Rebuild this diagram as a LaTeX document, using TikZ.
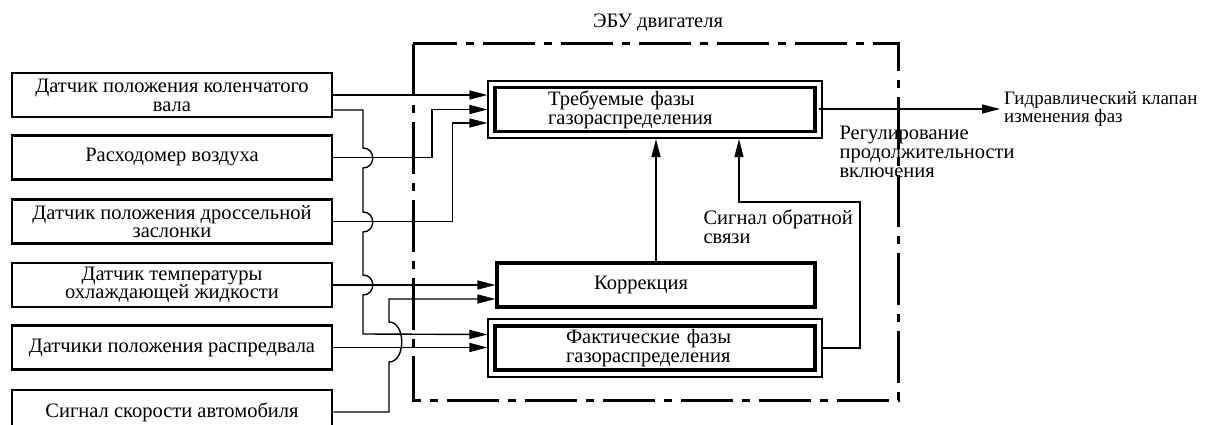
\documentclass[tikz,border=0pt]{standalone}
\usepackage{fontspec}
\setmainfont{Liberation Serif}
\usetikzlibrary{arrows.meta,fit}
\tikzset{
  every node/.style={font=\fontsize{20.5pt}{18.8pt}\selectfont},
  sensor/.style={draw,line width=2.8pt,minimum width=320pt,minimum height=44pt,align=center,inner sep=0pt},
  block/.style={draw,line width=3.2pt,minimum width=320pt,minimum height=44pt,inner sep=0pt},
  shell/.style={draw,line width=2pt,inner sep=5pt},
  wire/.style={line width=1.4pt},
  arr/.style={wire,-{Triangle[length=18pt,width=9pt]}},
  ecu/.style={line width=3pt,dash pattern=on 52pt off 9pt on 8pt off 9pt},
}
\begin{document}
\begin{tikzpicture}[x=1pt,y=-1pt]
\useasboundingbox (0,0) rectangle (1207,425);
% sensors
\node[sensor] (crank) at (172,95) {Датчик положения коленчатого\\вала};
\node[sensor] (maf) at (172,157.5) {Расходомер воздуха};
\node[sensor] (tps) at (172,221.5) {Датчик положения дроссельной\\заслонки};
\node[sensor] (ect) at (172,285) {Датчик температуры\\охлаждающей жидкости};
\node[sensor] (cmp) at (172,347.5) {Датчики положения распредвала};
\node[sensor] (vss) at (172,412) {Сигнал скорости автомобиля};
% ECU
\draw[ecu] (413,44) rectangle (898,400);
\node (ecu) at (658,23) {ЭБУ двигателя};
\node[block,text width=214pt,align=left] (treb) at (655,109.5) {Требуемые фазы\\газораспределения};
\node[shell,fit=(treb)] (trebo) {};
\node[block,minimum width=318pt] (korr) at (656,285) {\hspace*{-30pt}Коррекция};
\node[block,text width=178pt,align=left] (fakt) at (655,348) {Фактические фазы\\газораспределения};
\node[shell,fit=(fakt)] (fakto) {};
\node[anchor=west,align=left,inner xsep=0pt,font=\fontsize{19pt}{18.8pt}\selectfont] (valve) at (1004,109) {Гидравлический клапан\\изменения фаз};
\node[anchor=west,align=left] at (836,152) {Регулирование\\продолжительности\\включения};
\node[anchor=west,align=left] at (700,227) {Сигнал обратной\\связи};
% wires
\coordinate (bus) at (363,110);
\coordinate (fb1) at (860,202);
\coordinate (fb2) at (739,202);
\draw[arr] (crank.east) -- (crank.east -| trebo.west);
\draw[arr] ([yshift=-15pt]crank.east) -- (bus) -- (363,148)
  .. controls (376,148) and (376,168) .. (363,168) -- (363,212)
  .. controls (376,212) and (376,232) .. (363,232) -- (363,275)
  .. controls (376,275) and (376,295) .. (363,295) -- (363,334) -- ([yshift=13.5pt]fakto.west);
\draw[arr] (maf.east) -- (432,157.5) |- (trebo.west);
\draw[arr] (tps.east) -- ++(119,0) |- ([yshift=-13.5pt]trebo.west);
\draw[arr] (ect.east) -- (korr.west);
\draw[arr] (cmp.east) -- (cmp.east -| fakto.west);
\draw[arr] (vss.east) -- (389,412) -- (389,362)
  .. controls (406,362) and (406,322) .. (389,322) |- ([yshift=-14pt]korr.west);
\draw[arr] (korr.north) -- (korr.north |- trebo.south);
\draw[arr] (fakto.east) -| (fb1) -- (fb2) -- (fb2 |- trebo.south);
\draw[arr] ([xshift=-4pt]trebo.east |- valve.west) -- ([xshift=-4pt]valve.west);
\end{tikzpicture}
\end{document}
